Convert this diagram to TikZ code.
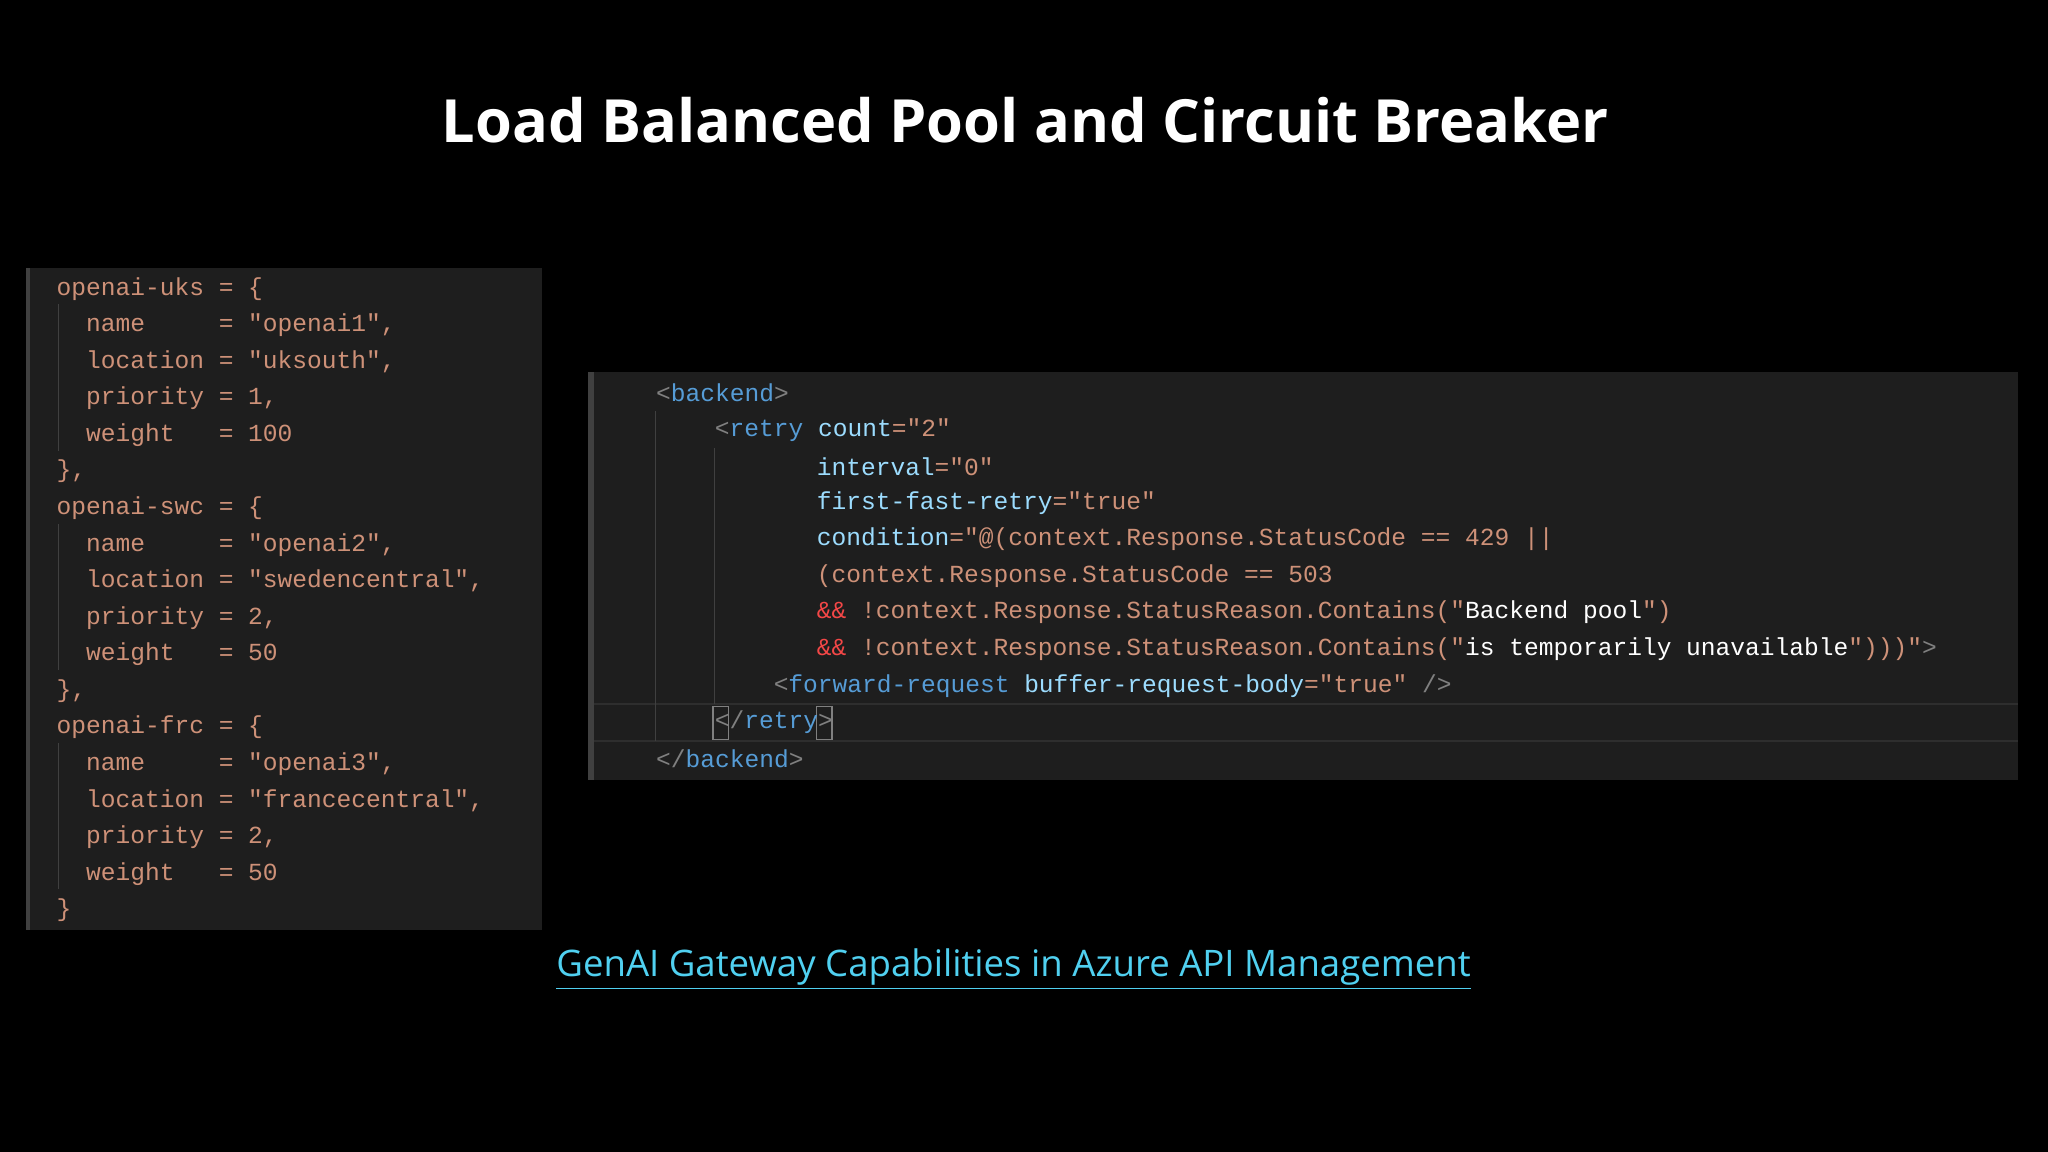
\documentclass[tikz,border=0pt]{standalone}
\usepackage{fontspec}
\setmainfont{Open Sans}
\setmonofont{Liberation Mono}
\definecolor{bgc}{HTML}{000000}
\definecolor{panel}{HTML}{1E1E1E}
\definecolor{str}{HTML}{CE9178}
\definecolor{tag}{HTML}{569CD6}
\definecolor{att}{HTML}{9CDCFE}
\definecolor{brk}{HTML}{808080}
\definecolor{red}{HTML}{F44747}
\definecolor{guide}{HTML}{404040}
\definecolor{curline}{HTML}{2E2E2E}
\definecolor{lnk}{HTML}{50D0F0}
\newcommand{\Sx}[1]{\textcolor{str}{#1}}
\newcommand{\Tg}[1]{\textcolor{tag}{#1}}
\newcommand{\At}[1]{\textcolor{att}{#1}}
\newcommand{\Bk}[1]{\textcolor{brk}{#1}}
\newcommand{\Rd}[1]{\textcolor{red}{#1}}
\tikzset{code/.style={anchor=west,inner sep=0pt,font=\ttfamily\fontsize{9.4}{11}\selectfont,text=str},
 guideline/.style={draw=guide,line width=0.5pt}}
\begin{document}
\begin{tikzpicture}[x=0.5pt,y=-0.5pt]
\fill[bgc] (0,0) rectangle (1568,882);
\node[text=white,font=\fontseries{sb}\bfseries\fontsize{22.8}{26}\selectfont] (title) at (785,92) {Load Balanced Pool and Circuit Breaker};
% left panel
\fill[panel] (20,205) rectangle (415,712);
\fill[guide] (20,205) rectangle (23,712);
\foreach \a/\b in {233/345,401/513,569/681}{\draw[guideline] (45,\a) -- (45,\b);}
\begin{scope}[yshift=-1pt]
\node[code] (l1) at (43,219) {openai-uks = \{};
\node[code] (l2) at (43,247) {~~name~~~~~= "openai1",};
\node[code] (l3) at (43,275) {~~location = "uksouth",};
\node[code] (l4) at (43,303) {~~priority = 1,};
\node[code] (l5) at (43,331) {~~weight~~~= 100};
\node[code] (l6) at (43,359) {\},};
\node[code] (l7) at (43,387) {openai-swc = \{};
\node[code] (l8) at (43,415) {~~name~~~~~= "openai2",};
\node[code] (l9) at (43,443) {~~location = "swedencentral",};
\node[code] (l10) at (43,471) {~~priority = 2,};
\node[code] (l11) at (43,499) {~~weight~~~= 50};
\node[code] (l12) at (43,527) {\},};
\node[code] (l13) at (43,555) {openai-frc = \{};
\node[code] (l14) at (43,583) {~~name~~~~~= "openai3",};
\node[code] (l15) at (43,611) {~~location = "francecentral",};
\node[code] (l16) at (43,639) {~~priority = 2,};
\node[code] (l17) at (43,667) {~~weight~~~= 50};
\node[code] (l18) at (43,695) {\}};
\end{scope}
% right panel
\fill[panel] (450,285) rectangle (1545,597);
\fill[guide] (450,285) rectangle (455,597);
\draw[draw=curline,line width=0.8pt] (455,539) -- (1545,539) (455,567) -- (1545,567);
\draw[guideline] (502,315) -- (502,567);
\draw[guideline] (547,343) -- (547,539);
\draw[draw=brk,line width=0.5pt] (546,541) rectangle (558,566) (625,541) rectangle (637,566);
\node[code] (r1) at (502,301) {\Bk{<}\Tg{backend}\Bk{>}};
\node[code] (r2) at (547,329) {\Bk{<}\Tg{retry} \At{count}\Sx{="2"}};
\node[code] (r3) at (625,357) {\At{interval}\Sx{="0"}};
\node[code] (r4) at (625,385) {\At{first-fast-retry}\Sx{="true"}};
\node[code] (r5) at (625,413) {\At{condition}\Sx{="@(context.Response.StatusCode == 429 ||}};
\node[code] (r6) at (625,441) {\Sx{(context.Response.StatusCode == 503}};
\node[code] (r7) at (625,469) {\Rd{\&\&} \Sx{!context.Response.StatusReason.Contains("}\textcolor{white!85}{Backend pool}\Sx{")}};
\node[code] (r8) at (625,497) {\Rd{\&\&} \Sx{!context.Response.StatusReason.Contains("}\textcolor{white!85}{is temporarily unavailable}\Sx{")))"}\Bk{>}};
\node[code] (r9) at (592,525) {\Bk{<}\Tg{forward-request} \At{buffer-request-body}\Sx{="true"} \Bk{/>}};
\node[code] (r10) at (547,553) {\Bk{</}\Tg{retry}\Bk{>}};
\node[code] (r11) at (502,581) {\Bk{</}\Tg{backend}\Bk{>}};
% link
\node[text=lnk,font=\fontsize{14}{17}\selectfont] (link) at (776,742) {\underline{GenAI Gateway Capabilities in Azure API Management}};
\end{tikzpicture}
\end{document}
